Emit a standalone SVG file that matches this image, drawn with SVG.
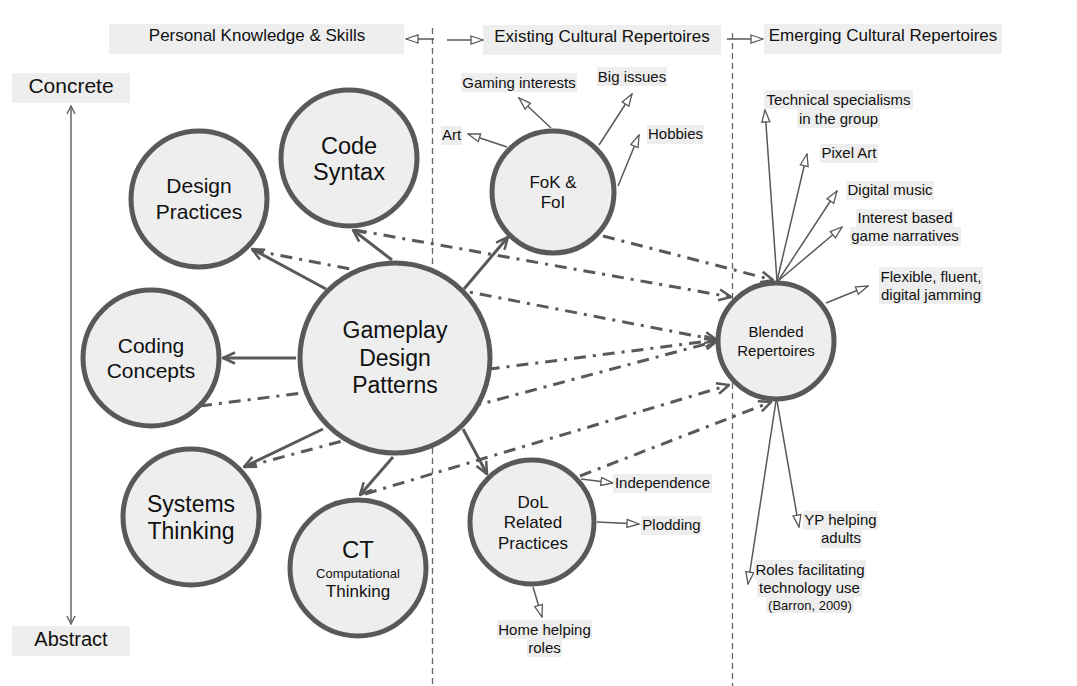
<svg xmlns="http://www.w3.org/2000/svg" width="1077" height="686" viewBox="0 0 1077 686">
<style>
text{font-family:"Liberation Sans",Arial,sans-serif;fill:#111;text-anchor:middle}
.node{fill:#eeeeee;stroke:#595959;stroke-width:5}
.bg{fill:#eeeeee}
.solid{stroke:#595959;stroke-width:3;fill:none;marker-end:url(#vee)}
.dd{stroke:#595959;stroke-width:3;fill:none;stroke-dasharray:12 7 3 7;marker-end:url(#vee)}
.thin{stroke:#595959;stroke-width:1.5;fill:none;marker-end:url(#tri)}
.div{stroke:#666;stroke-width:1.3;stroke-dasharray:6 4;fill:none}
.axis{stroke:#666;stroke-width:1.5;fill:none;marker-end:url(#vs);marker-start:url(#vsr)}
.s15{font-size:15px}
</style>
<defs>
<marker id="vee" viewBox="0 0 14 14" refX="13" refY="7" markerWidth="14" markerHeight="14" markerUnits="userSpaceOnUse" orient="auto">
<path d="M1,1.5 L13,7 L1,12.5" fill="none" stroke="#595959" stroke-width="2.5"/>
</marker>
<marker id="tri" viewBox="0 0 14 10" refX="13" refY="5" markerWidth="14" markerHeight="10" markerUnits="userSpaceOnUse" orient="auto">
<path d="M1,1 L13,5 L1,9 Z" fill="#fff" stroke="#595959" stroke-width="1.3"/>
</marker>
<marker id="vs" viewBox="0 0 10 10" refX="9" refY="5" markerWidth="10" markerHeight="10" markerUnits="userSpaceOnUse" orient="auto">
<path d="M1,1 L9,5 L1,9" fill="none" stroke="#666" stroke-width="1.5"/>
</marker>
<marker id="vsr" viewBox="0 0 10 10" refX="1" refY="5" markerWidth="10" markerHeight="10" markerUnits="userSpaceOnUse" orient="auto">
<path d="M9,1 L1,5 L9,9" fill="none" stroke="#666" stroke-width="1.5"/>
</marker>
</defs>
<rect width="1077" height="686" fill="#fff"/>

<g id="dividers">
<line class="div" x1="432.5" y1="28" x2="432.5" y2="686"/>
<line class="div" x1="732.5" y1="33" x2="732.5" y2="686"/>
</g>

<g id="headers">
<rect class="bg" x="109" y="24" width="295" height="30"/>
<text x="257" y="41" style="font-size:17px">Personal Knowledge &amp; Skills</text>
<rect class="bg" x="483" y="25" width="238" height="30"/>
<text x="602" y="42" style="font-size:17px">Existing Cultural Repertoires</text>
<rect class="bg" x="764" y="24" width="238" height="30"/>
<text x="883" y="41" style="font-size:17px">Emerging Cultural Repertoires</text>
<rect class="bg" x="12" y="73" width="118" height="30"/>
<text x="71" y="93" style="font-size:21px">Concrete</text>
<rect class="bg" x="12" y="626" width="118" height="30"/>
<text x="71" y="646" style="font-size:20px">Abstract</text>
</g>

<g id="connectors">
<line class="thin" x1="434" y1="39" x2="406" y2="39"/>
<line class="thin" x1="447" y1="40" x2="483" y2="40"/>
<line class="thin" x1="727" y1="39" x2="763" y2="39"/>
<line class="axis" x1="71" y1="106" x2="71" y2="624"/>
<line class="dd" x1="252" y1="250" x2="717" y2="340"/>
<line class="dd" x1="355" y1="230" x2="731" y2="297"/>
<line class="dd" x1="603" y1="236" x2="773" y2="280"/>
<line class="dd" x1="200" y1="406" x2="717" y2="340"/>
<line class="dd" x1="245" y1="467" x2="717" y2="341"/>
<line class="dd" x1="365" y1="494" x2="729" y2="385"/>
<line class="dd" x1="580" y1="476" x2="771" y2="402"/>
<line class="solid" x1="326" y1="289" x2="252" y2="249"/>
<line class="solid" x1="392" y1="260" x2="353" y2="230"/>
<line class="solid" x1="464" y1="289" x2="508" y2="237"/>
<line class="solid" x1="296" y1="358" x2="223" y2="358"/>
<line class="solid" x1="323" y1="429" x2="244" y2="467"/>
<line class="solid" x1="393" y1="457" x2="360" y2="495"/>
<line class="solid" x1="463" y1="429" x2="487" y2="474"/>
<line class="thin" x1="507" y1="147" x2="468" y2="134"/>
<line class="thin" x1="551" y1="128" x2="519" y2="98"/>
<line class="thin" x1="599" y1="145" x2="632" y2="94"/>
<line class="thin" x1="618" y1="186" x2="639" y2="135"/>
<line class="thin" x1="777" y1="281" x2="765" y2="110"/>
<line class="thin" x1="777" y1="281" x2="807" y2="154"/>
<line class="thin" x1="778" y1="281" x2="837" y2="191"/>
<line class="thin" x1="778" y1="281" x2="842" y2="227"/>
<line class="thin" x1="826" y1="303" x2="868" y2="286"/>
<line class="thin" x1="777" y1="401" x2="799" y2="527"/>
<line class="thin" x1="776" y1="401" x2="748" y2="584"/>
<line class="thin" x1="581" y1="479" x2="613" y2="483"/>
<line class="thin" x1="597" y1="522" x2="639" y2="524"/>
<line class="thin" x1="533" y1="587" x2="542" y2="617"/>
</g>

<g id="design-practices">
<circle class="node" cx="199" cy="199" r="68"/>
<text x="199" y="193" style="font-size:21px">Design</text>
<text x="199" y="219" style="font-size:21px">Practices</text>
</g>
<g id="code-syntax">
<circle class="node" cx="349" cy="158" r="68"/>
<text x="349" y="154" style="font-size:23.5px">Code</text>
<text x="349" y="180" style="font-size:23.5px">Syntax</text>
</g>
<g id="coding-concepts">
<circle class="node" cx="151" cy="358" r="68"/>
<text x="151" y="353" style="font-size:21px">Coding</text>
<text x="151" y="378" style="font-size:21px">Concepts</text>
</g>
<g id="systems-thinking">
<circle class="node" cx="191" cy="517" r="68"/>
<text x="191" y="512" style="font-size:23px">Systems</text>
<text x="191" y="539" style="font-size:23px">Thinking</text>
</g>
<g id="ct">
<circle class="node" cx="358" cy="568" r="68"/>
<text x="358" y="558" style="font-size:24px">CT</text>
<text x="358" y="578" style="font-size:13px">Computational</text>
<text x="358" y="597" style="font-size:17px">Thinking</text>
</g>
<g id="gameplay-design-patterns">
<circle class="node" cx="395" cy="358" r="95"/>
<text x="395" y="338" style="font-size:23px">Gameplay</text>
<text x="395" y="366" style="font-size:23px">Design</text>
<text x="395" y="393" style="font-size:23px">Patterns</text>
</g>
<g id="fok-foi">
<circle class="node" cx="553" cy="192" r="61"/>
<text x="553" y="188" style="font-size:17px">FoK &amp;</text>
<text x="553" y="208" style="font-size:17px">FoI</text>
</g>
<g id="blended-repertoires">
<circle class="node" cx="776" cy="341" r="58"/>
<text x="776" y="337" class="s15">Blended</text>
<text x="776" y="356" class="s15">Repertoires</text>
</g>
<g id="dol-related-practices">
<circle class="node" cx="532" cy="522" r="62"/>
<text x="533" y="508" style="font-size:17px">DoL</text>
<text x="533" y="528" style="font-size:17px">Related</text>
<text x="533" y="549" style="font-size:17px">Practices</text>
</g>

<g id="label-gaming"><rect class="bg" x="461" y="73" width="116" height="19"/><text x="519" y="88" class="s15">Gaming interests</text></g>
<g id="label-big-issues"><rect class="bg" x="597" y="67" width="70" height="19"/><text x="632" y="82" class="s15">Big issues</text></g>
<g id="label-art"><rect class="bg" x="441" y="126" width="21" height="19"/><text x="451.5" y="140" class="s15">Art</text></g>
<g id="label-hobbies"><rect class="bg" x="647" y="125" width="57" height="19"/><text x="675.5" y="139" class="s15">Hobbies</text></g>
<g id="label-technical"><rect class="bg" x="764" y="90" width="149" height="19"/><rect class="bg" x="797" y="109" width="83" height="19"/><text x="838.5" y="105" class="s15">Technical specialisms</text><text x="838.5" y="124" class="s15">in the group</text></g>
<g id="label-pixel-art"><rect class="bg" x="820" y="144" width="58" height="19"/><text x="849" y="158" class="s15">Pixel Art</text></g>
<g id="label-digital-music"><rect class="bg" x="846" y="181" width="88" height="19"/><text x="890" y="195" class="s15">Digital music</text></g>
<g id="label-interest"><rect class="bg" x="856" y="209" width="98" height="18"/><rect class="bg" x="850" y="227" width="111" height="19"/><text x="905" y="223" class="s15">Interest based</text><text x="905" y="241" class="s15">game narratives</text></g>
<g id="label-flexible"><rect class="bg" x="879" y="267" width="104" height="19"/><rect class="bg" x="879" y="286" width="104" height="18"/><text x="931" y="282" class="s15">Flexible, fluent,</text><text x="931" y="300" class="s15">digital jamming</text></g>
<g id="label-independence"><rect class="bg" x="613" y="474" width="99" height="19"/><text x="662.5" y="488" class="s15">Independence</text></g>
<g id="label-plodding"><rect class="bg" x="641" y="516" width="61" height="19"/><text x="671.5" y="530" class="s15">Plodding</text></g>
<g id="label-home"><rect class="bg" x="497" y="620" width="95" height="19"/><rect class="bg" x="527" y="639" width="35" height="18"/><text x="544.5" y="635" class="s15">Home helping</text><text x="544.5" y="653" class="s15">roles</text></g>
<g id="label-yp"><rect class="bg" x="803" y="511" width="75" height="19"/><rect class="bg" x="820" y="530" width="42" height="18"/><text x="840.5" y="525" class="s15">YP helping</text><text x="841" y="543" class="s15">adults</text></g>
<g id="label-roles"><rect class="bg" x="754" y="560" width="112" height="19"/><rect class="bg" x="757" y="579" width="105" height="18"/><rect class="bg" x="766" y="597" width="88" height="16"/><text x="810" y="575" class="s15">Roles facilitating</text><text x="809.5" y="593" class="s15">technology use</text><text x="810" y="610" style="font-size:13px">(Barron, 2009)</text></g>
</svg>
